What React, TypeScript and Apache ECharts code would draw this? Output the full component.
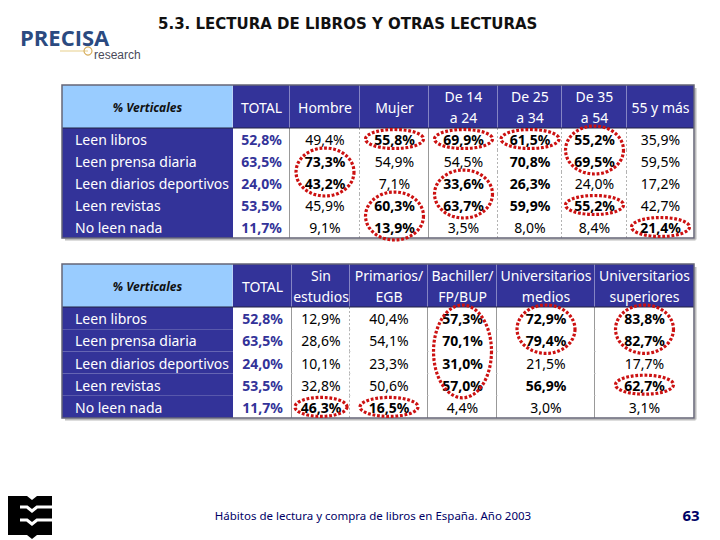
import React, { useEffect, useRef } from 'react';
import * as echarts from 'echarts';

// ---------- DATA ----------
const cornerLabel = '% Verticales';
const totalHeader = 'TOTAL';
const rowLabels = ['Leen libros', 'Leen prensa diaria', 'Leen diarios deportivos', 'Leen revistas', 'No leen nada'];
const totalValues = [52.8, 63.5, 24.0, 53.5, 11.7];

// Table 1: sexo / edad
const table1Headers = ['Hombre', 'Mujer', 'De 14\na 24', 'De 25\na 34', 'De 35\na 54', '55 y más'];
const hombre = [49.4, 73.3, 43.2, 45.9, 9.1];
const mujer = [55.8, 54.9, 7.1, 60.3, 13.9];
const de14a24 = [69.9, 54.5, 33.6, 63.7, 3.5];
const de25a34 = [61.5, 70.8, 26.3, 59.9, 8.0];
const de35a54 = [55.2, 69.5, 24.0, 55.2, 8.4];
const de55ymas = [35.9, 59.5, 17.2, 42.7, 21.4];
const table1Values = [hombre, mujer, de14a24, de25a34, de35a54, de55ymas];
// emphasised cells [column, row]
const table1Bold = [[0, 1], [0, 2], [1, 0], [1, 3], [1, 4], [2, 0], [2, 2], [2, 3], [3, 0], [3, 1], [3, 2], [3, 3], [4, 0], [4, 1], [4, 3], [5, 4]];
// circled groups [column, firstRow, lastRow]
const table1Circles = [[0, 1, 2], [1, 0, 0], [1, 3, 4], [2, 0, 0], [2, 2, 3], [3, 0, 0], [4, 0, 1], [4, 3, 3], [5, 4, 4]];

// Table 2: estudios
const table2Headers = ['Sin\nestudios', 'Primarios/\nEGB', 'Bachiller/\nFP/BUP', 'Universitarios\nmedios', 'Universitarios\nsuperiores'];
const sinEstudios = [12.9, 28.6, 10.1, 32.8, 46.3];
const primarios = [40.4, 54.1, 23.3, 50.6, 16.5];
const bachiller = [57.3, 70.1, 31.0, 57.0, 4.4];
const univMedios = [72.9, 79.4, 21.5, 56.9, 3.0];
const univSuperiores = [83.8, 82.7, 17.7, 62.7, 3.1];
const table2Values = [sinEstudios, primarios, bachiller, univMedios, univSuperiores];
const table2Bold = [[0, 4], [1, 4], [2, 0], [2, 1], [2, 2], [2, 3], [3, 0], [3, 1], [3, 3], [4, 0], [4, 1], [4, 3]];
const table2Circles = [[0, 4, 4], [1, 4, 4], [2, 0, 3], [3, 0, 1], [4, 0, 1], [4, 3, 3]];

const titleText = '5.3. LECTURA DE LIBROS Y OTRAS LECTURAS';
const footerText = 'Hábitos de lectura y compra de libros en España. Año 2003';
const pageNumber = '63';

// ---------- LAYOUT / STYLE ----------
const NAVY = '#333399';
const LIGHT = '#99ccff';
const FONT = '"Noto Sans", sans-serif';
const LAYOUT1 = { left: 62, top: 85, colWidths: [171, 57, 70, 69, 69, 64, 65, 67], headerH: 43, rowH: 22, solid: [0, 1, 3] };
const LAYOUT2 = { left: 62, top: 264, colWidths: [171, 59, 58, 78, 69, 98, 99], headerH: 43, rowH: 22.2, solid: [0, 1, 3, 4, 5] };

const fmt = (v: number) => v.toFixed(1).replace('.', ',') + '%';
const cumulative = (ws: number[]) => {
  const xs = [0];
  ws.forEach((w) => xs.push(xs[xs.length - 1] + w));
  return xs;
};

function buildTable(headers: string[], columns: number[][], boldList: number[][], circles: number[][], L: any) {
  const xs = cumulative(L.colWidths);
  const ys = [0, L.headerH];
  rowLabels.forEach(() => ys.push(ys[ys.length - 1] + L.rowH));
  const W = xs[xs.length - 1];
  const H = ys[ys.length - 1];
  const nCols = headers.length + 2;
  const isBold = (c: number, r: number) => boldList.some(([bc, br]) => bc === c && br === r);
  const cells: any[] = [];
  const allHeaders = [cornerLabel, totalHeader, ...headers];
  allHeaders.forEach((h, i) =>
    cells.push({
      v: [xs[i], 0, xs[i + 1], L.headerH],
      fill: i === 0 ? LIGHT : NAVY,
      text: h,
      color: i === 0 ? '#111111' : '#ffffff',
      weight: i === 0 ? 'bold' : 'normal',
      style: i === 0 ? 'italic' : 'normal',
      size: i === 0 ? 12 : 14,
      align: 'center',
      border: i < nCols - 1 ? 'header' : null,
    })
  );
  rowLabels.forEach((lab, r) => {
    const y0 = ys[r + 1];
    const y1 = ys[r + 2];
    cells.push({ v: [xs[0], y0, xs[1], y1], fill: NAVY, text: lab, color: '#ffffff', weight: 'normal', style: 'normal', size: 14, align: 'left', border: null });
    cells.push({ v: [xs[1], y0, xs[2], y1], fill: '#ffffff', text: fmt(totalValues[r]), color: NAVY, weight: 'bold', style: 'normal', size: 14, align: 'center', border: 'solid' });
    columns.forEach((col, c) => {
      const ci = c + 2;
      cells.push({
        v: [xs[ci], y0, xs[ci + 1], y1],
        fill: '#ffffff',
        text: fmt(col[r]),
        color: '#000000',
        weight: isBold(c, r) ? 'bold' : 'normal',
        style: 'normal',
        size: 14,
        align: 'center',
        border: ci < nCols - 1 ? (L.solid.includes(ci) ? 'solid' : 'dashed') : null,
      });
    });
  });
  const rings = circles.map(([c, r0, r1]) => {
    const ci = c + 2;
    const span = ys[r1 + 2] - ys[r0 + 1];
    const cx = (xs[ci] + xs[ci + 1]) / 2;
    const cy = (ys[r0 + 1] + ys[r1 + 2]) / 2;
    const rx = Math.min((xs[ci + 1] - xs[ci]) / 2 - 3, 29);
    const ry = r0 === r1 ? 9.5 : span / 2 + 2;
    return [cx, cy, rx, ry];
  });
  return { cells, rings, W, H, headerH: L.headerH };
}

const T1 = buildTable(table1Headers, table1Values, table1Bold, table1Circles, LAYOUT1);
const T2 = buildTable(table2Headers, table2Values, table2Bold, table2Circles, LAYOUT2);

function cellSeries(T: any, idx: number) {
  return {
    type: 'custom',
    xAxisIndex: idx,
    yAxisIndex: idx,
    z: 1,
    silent: true,
    data: T.cells.map((c: any) => c.v),
    renderItem: (params: any, api: any) => {
      const c = T.cells[params.dataIndex];
      const p0 = api.coord([api.value(0), api.value(1)]);
      const p1 = api.coord([api.value(2), api.value(3)]);
      const children: any[] = [
        { type: 'rect', shape: { x: p0[0], y: p0[1], width: p1[0] - p0[0], height: p1[1] - p0[1] }, style: { fill: c.fill } },
        {
          type: 'text',
          style: {
            text: c.text,
            x: c.align === 'left' ? p0[0] + 13 : (p0[0] + p1[0]) / 2,
            y: (p0[1] + p1[1]) / 2 + 0.5,
            align: c.align,
            verticalAlign: 'middle',
            fill: c.color,
            fontFamily: FONT,
            fontSize: c.size,
            fontWeight: c.weight,
            fontStyle: c.style,
            lineHeight: 21,
          },
        },
      ];
      if (c.border) {
        const stroke = c.border === 'header' ? '#d8d8ee' : c.border === 'solid' ? '#333333' : '#666666';
        children.push({
          type: 'line',
          shape: { x1: p1[0], y1: p0[1], x2: p1[0], y2: p1[1] },
          style: { stroke, lineWidth: 1, lineDash: c.border === 'dashed' ? [2, 2] : null },
        });
      }
      return { type: 'group', children };
    },
  };
}

function frameSeries(T: any, idx: number) {
  return {
    type: 'custom',
    xAxisIndex: idx,
    yAxisIndex: idx,
    z: 2,
    silent: true,
    data: [[0, 0, T.W, T.H, T.headerH]],
    renderItem: (params: any, api: any) => {
      const p0 = api.coord([api.value(0), api.value(1)]);
      const p1 = api.coord([api.value(2), api.value(3)]);
      const ph = api.coord([api.value(0), api.value(4)]);
      return {
        type: 'group',
        children: [
          { type: 'line', shape: { x1: p0[0] + 3, y1: p1[1] + 1.5, x2: p1[0] + 1.5, y2: p1[1] + 1.5 }, style: { stroke: '#bbbbbb', lineWidth: 2 } },
          { type: 'line', shape: { x1: p1[0] + 1.5, y1: p0[1] + 3, x2: p1[0] + 1.5, y2: p1[1] + 1.5 }, style: { stroke: '#bbbbbb', lineWidth: 2 } },
          { type: 'line', shape: { x1: p0[0], y1: ph[1], x2: p1[0], y2: ph[1] }, style: { stroke: '#222244', lineWidth: 1.2 } },
          { type: 'rect', shape: { x: p0[0], y: p0[1], width: p1[0] - p0[0], height: p1[1] - p0[1] }, style: { fill: 'none', stroke: '#666677', lineWidth: 1.5 } },
        ],
      };
    },
  };
}

function ringSeries(T: any, idx: number) {
  return {
    type: 'custom',
    xAxisIndex: idx,
    yAxisIndex: idx,
    z: 3,
    silent: true,
    data: T.rings,
    renderItem: (params: any, api: any) => {
      const c = api.coord([api.value(0), api.value(1)]);
      const s = api.size([api.value(2), api.value(3)]);
      const pts: number[][] = [];
      const n = 64;
      for (let i = 0; i < n; i++) {
        const a = (i / n) * Math.PI * 2;
        pts.push([c[0] + s[0] * Math.cos(a), c[1] + s[1] * Math.sin(a)]);
      }
      return {
        type: 'polygon',
        shape: { points: pts },
        style: { fill: 'none', stroke: '#cc1111', lineWidth: 3.2, lineDash: [2.8, 1.8] },
      };
    },
  };
}

const option: any = {
  animation: false,
  backgroundColor: '#ffffff',
  grid: [
    { left: LAYOUT1.left, top: LAYOUT1.top, width: T1.W, height: T1.H },
    { left: LAYOUT2.left, top: LAYOUT2.top, width: T2.W, height: T2.H },
  ],
  xAxis: [
    { gridIndex: 0, type: 'value', min: 0, max: T1.W, show: false },
    { gridIndex: 1, type: 'value', min: 0, max: T2.W, show: false },
  ],
  yAxis: [
    { gridIndex: 0, type: 'value', min: 0, max: T1.H, inverse: true, show: false },
    { gridIndex: 1, type: 'value', min: 0, max: T2.H, inverse: true, show: false },
  ],
  series: [cellSeries(T1, 0), frameSeries(T1, 0), ringSeries(T1, 0), cellSeries(T2, 1), frameSeries(T2, 1), ringSeries(T2, 1)],
  graphic: [
    // header decoration lines
    {
      type: 'line',
      shape: { x1: 88, y1: 0, x2: 88, y2: 80 },
      style: {
        lineWidth: 1.5,
        stroke: new echarts.graphic.LinearGradient(0, 0, 0, 1, [
          { offset: 0, color: 'rgba(230,200,120,0)' },
          { offset: 0.4, color: 'rgba(225,195,110,1)' },
          { offset: 0.7, color: 'rgba(225,195,110,1)' },
          { offset: 1, color: 'rgba(230,200,120,0)' },
        ]),
      },
    },
    {
      type: 'line',
      shape: { x1: 0, y1: 32, x2: 150, y2: 32 },
      style: {
        lineWidth: 1.2,
        stroke: new echarts.graphic.LinearGradient(0, 0, 1, 0, [
          { offset: 0, color: 'rgba(230,200,120,0)' },
          { offset: 0.5, color: 'rgba(225,195,110,0.9)' },
          { offset: 1, color: 'rgba(230,200,120,0)' },
        ]),
      },
    },
    {
      type: 'line',
      shape: { x1: 60, y1: 51, x2: 88, y2: 51 },
      style: { lineWidth: 1, stroke: 'rgba(225,195,110,0.8)' },
    },
    {
      type: 'line',
      shape: { x1: 113, y1: 43.5, x2: 692, y2: 43.5 },
      style: {
        lineWidth: 3,
        stroke: new echarts.graphic.LinearGradient(0, 0, 1, 0, [
          { offset: 0, color: '#d9cc9a' },
          { offset: 0.25, color: '#cfe0ea' },
          { offset: 1, color: '#c4dcef' },
        ]),
      },
    },
    { type: 'circle', shape: { cx: 88, cy: 51, r: 4 }, style: { fill: 'none', stroke: '#d8b060', lineWidth: 1.2 } },
    { type: 'text', x: 20, y: 37, style: { text: 'PRECISA', fill: '#2b4a80', fontFamily: '"Open Sans", sans-serif', fontWeight: 'bold', fontSize: 22, verticalAlign: 'middle' } },
    { type: 'text', x: 94, y: 55, style: { text: 'research', fill: '#4a4a5a', fontFamily: '"Liberation Sans Narrow", "Liberation Sans", sans-serif', fontSize: 12, verticalAlign: 'middle' } },
    { type: 'text', x: 158, y: 24, style: { text: titleText, fill: '#111111', fontFamily: '"DejaVu Sans", sans-serif', fontWeight: 'bold', fontSize: 15, verticalAlign: 'middle' } },
    // footer
    { type: 'rect', shape: { x: 8, y: 496, width: 44, height: 39 }, style: { fill: '#000000' } },
    { type: 'polyline', shape: { points: [[20, 507], [27, 507], [32, 511], [37, 507], [52, 507]] }, style: { stroke: '#ffffff', lineWidth: 3, fill: 'none' } },
    { type: 'polyline', shape: { points: [[20, 520], [27, 520], [32, 524], [37, 520], [52, 520]] }, style: { stroke: '#ffffff', lineWidth: 3, fill: 'none' } },
    { type: 'polygon', shape: { points: [[27, 496], [32, 500], [37, 496]] }, style: { fill: '#ffffff' } },
    { type: 'polygon', shape: { points: [[27, 535], [32, 539], [37, 535]] }, style: { fill: '#000000' } },
    { type: 'text', x: 373, y: 515, style: { text: footerText, fill: '#000066', fontFamily: FONT, fontSize: 11.5, align: 'center', verticalAlign: 'middle' } },
    { type: 'text', x: 691, y: 515, style: { text: pageNumber, fill: '#000066', fontFamily: FONT, fontWeight: 'bold', fontSize: 15, align: 'center', verticalAlign: 'middle' } },
  ],
};

export default function App() {
  const ref = useRef<HTMLDivElement>(null);
  useEffect(() => {
    const chart = echarts.init(ref.current as HTMLDivElement, null, { renderer: 'svg' });
    chart.setOption(option);
    return () => chart.dispose();
  }, []);
  return <div ref={ref} style={{ position: 'fixed', left: 0, top: 0, width: 720, height: 540 }} />;
}
